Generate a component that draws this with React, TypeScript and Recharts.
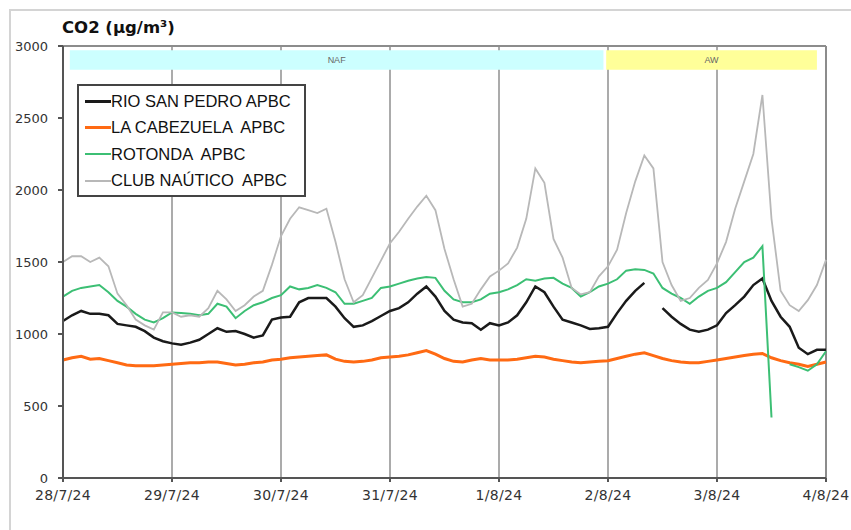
import React from "react";
import {
  LineChart, Line, XAxis, YAxis, CartesianGrid, ReferenceArea, ReferenceLine,
} from "recharts";

// 2-hourly readings, 28/7/24 00:00 -> 4/8/24 00:00
const hours = Array.from({ length: 85 }, (_, i) => i * 2);

const dayLabels = ["28/7/24", "29/7/24", "30/7/24", "31/7/24", "1/8/24", "2/8/24", "3/8/24", "4/8/24"];
const dayTicks = [0, 24, 48, 72, 96, 120, 144, 168];
const yTicks = [0, 500, 1000, 1500, 2000, 2500, 3000];

const rioSanPedro = [
  1090, 1130, 1160, 1140, 1140, 1130, 1070, 1060, 1050, 1020, 975, 950,
  935, 925, 940, 960, 1000, 1040, 1015, 1020, 1000, 975, 990, 1100,
  1115, 1120, 1220, 1250, 1250, 1250, 1190, 1110, 1050, 1060, 1090, 1125,
  1160, 1180, 1220, 1280, 1330, 1260, 1160, 1100, 1080, 1075, 1030, 1075,
  1060, 1080, 1130, 1220, 1330, 1290, 1190, 1100, 1080, 1060, 1035, 1040,
  1050, 1145, 1230, 1300, 1355, null, 1180, 1120, 1070, 1030, 1015, 1030,
  1060, 1145, 1200, 1260, 1340, 1385, 1230, 1120, 1050, 905, 860, 890,
  890,
];

const laCabezuela = [
  820, 835, 845, 825, 830, 815, 800, 785, 780, 780, 780, 785,
  790, 795, 800, 800, 805, 805, 795, 785, 790, 800, 805, 820,
  825, 835, 840, 845, 850, 855, 825, 810, 805, 810, 820, 835,
  840, 845, 855, 870, 885, 860, 830, 810, 805, 820, 830, 820,
  820, 820, 825, 835, 845, 840, 825, 815, 805, 800, 805, 810,
  815, 830, 845, 860, 870, 850, 830, 815, 805, 800, 800, 810,
  820, 830, 840, 850, 860, 865, 835, 815, 800, 790, 775, 790,
  805,
];

const rotonda = [
  1260, 1300, 1320, 1330, 1340, 1290, 1230, 1190, 1140, 1100, 1080, 1110,
  1150, 1145, 1140, 1130, 1140, 1210, 1190, 1110, 1160, 1200, 1220, 1250,
  1270, 1330, 1310, 1320, 1340, 1320, 1290, 1210, 1210, 1230, 1250, 1320,
  1330, 1350, 1370, 1385, 1395, 1390, 1300, 1240, 1220, 1220, 1240, 1280,
  1290, 1310, 1340, 1380, 1370, 1385, 1390, 1350, 1320, 1260, 1290, 1330,
  1350, 1380, 1440, 1450, 1445, 1420, 1320, 1280, 1250, 1210, 1260, 1300,
  1320, 1360, 1430, 1500, 1530, 1610, 420, null, 790, 770, 745, 790,
  880,
];

const clubNautico = [
  1500, 1540, 1540, 1500, 1530, 1470, 1280, 1200, 1100, 1060, 1030, 1150,
  1150, 1120, 1130, 1120, 1180, 1300, 1240, 1160, 1200, 1260, 1300, 1480,
  1680, 1800, 1880, 1860, 1840, 1870, 1640, 1380, 1220, 1270, 1390, 1510,
  1630, 1710, 1800, 1885, 1960, 1860, 1590, 1380, 1190, 1210, 1310, 1400,
  1440, 1490, 1600, 1800, 2150, 2050, 1660, 1530, 1320, 1275, 1290, 1400,
  1470, 1585, 1840, 2060, 2240, 2150, 1500, 1340, 1230, 1250, 1320, 1375,
  1490, 1640, 1870, 2060, 2250, 2660, 1800, 1300, 1200, 1160, 1235, 1340,
  1515,
];

const periodLabels = ["NAF", "AW"];
const periodStart = [1.5, 119.6];
const periodEnd = [119, 166];

const rows = hours.map((h, i) => ({
  h,
  rio: rioSanPedro[i],
  cab: laCabezuela[i],
  rot: rotonda[i],
  club: clubNautico[i],
}));

const series = [
  { key: "rio", name: "RIO SAN PEDRO APBC", color: "#1a1a1a", width: 2.5 },
  { key: "cab", name: "LA CABEZUELA  APBC", color: "#ff6a13", width: 3 },
  { key: "rot", name: "ROTONDA  APBC", color: "#3cbf74", width: 2 },
  { key: "club", name: "CLUB NAÚTICO  APBC", color: "#b8b8b8", width: 1.8 },
];
const periodColors = ["#ccffff", "#ffff99"];

const FONT = '"Liberation Sans", Arial, sans-serif';
const TICK_FONT = '"DejaVu Sans", Verdana, sans-serif';

function LegendBox() {
  return (
    <div style={{
      position: "absolute", left: 77, top: 84, width: 219, height: 107,
      border: "2px solid #444", background: "#fff", padding: "2px 0 0 6px",
      fontFamily: FONT, fontSize: 16.5, color: "#111",
    }}>
      {series.map((s) => (
        <div key={s.key} style={{ display: "flex", alignItems: "center", height: 26.5, whiteSpace: "pre" }}>
          <span style={{ display: "inline-block", width: 26, height: s.width, background: s.color }} />
          {s.name}
        </div>
      ))}
    </div>
  );
}

export default function App() {
  return (
    <div style={{ position: "absolute", left: 0, top: 0, width: 851, height: 530, background: "#fff" }}>
      <div style={{ position: "absolute", left: 9, top: 9, right: 0, bottom: 0, borderTop: "2px solid #d4d4d4", borderLeft: "2px solid #d4d4d4" }} />
      <LineChart width={851} height={530} data={rows} margin={{ top: 46, right: 25, left: 0, bottom: 22 }}
        style={{ position: "absolute", left: 0, top: 0 }}>
        <CartesianGrid horizontal={false} verticalValues={dayTicks} stroke="#ababab" strokeWidth={2} />
        <ReferenceLine y={3000} stroke="#8c8c8c" strokeWidth={2} />
        <ReferenceLine x={168} stroke="#8c8c8c" strokeWidth={2} />
        {periodLabels.map((p, i) => (
          <ReferenceArea key={p} x1={periodStart[i]} x2={periodEnd[i]} y1={2835} y2={2970}
            fill={periodColors[i]} fillOpacity={1} stroke="none"
            label={{ value: p, position: "center", fontSize: 9, fill: "#666", fontFamily: FONT }} />
        ))}
        <XAxis type="number" dataKey="h" domain={[0, 168]} ticks={dayTicks}
          tickFormatter={(v: number) => dayLabels[dayTicks.indexOf(v)]}
          height={30} tickSize={4} tickMargin={8} interval={0}
          stroke="#555" strokeWidth={2}
          tick={{ fontSize: 14, fill: "#333", fontFamily: TICK_FONT, letterSpacing: 0.3 }} />
        <YAxis type="number" domain={[0, 3000]} ticks={yTicks} width={63}
          tickSize={5} tickMargin={10} stroke="#555" strokeWidth={2}
          tick={{ fontSize: 13, fill: "#333", fontFamily: TICK_FONT }} />
        {series.map((s) => (
          <Line key={s.key} type="linear" dataKey={s.key} name={s.name} stroke={s.color}
            strokeWidth={s.width} dot={false} activeDot={false} connectNulls={false}
            isAnimationActive={false} />
        ))}
      </LineChart>
      <div style={{
        position: "absolute", left: 62, top: 18, fontFamily: '"DejaVu Sans", Verdana, sans-serif',
        fontWeight: "bold", fontSize: 16.5, color: "#111",
      }}>
        CO2 (µg/m³)
      </div>
      <LegendBox />
    </div>
  );
}
